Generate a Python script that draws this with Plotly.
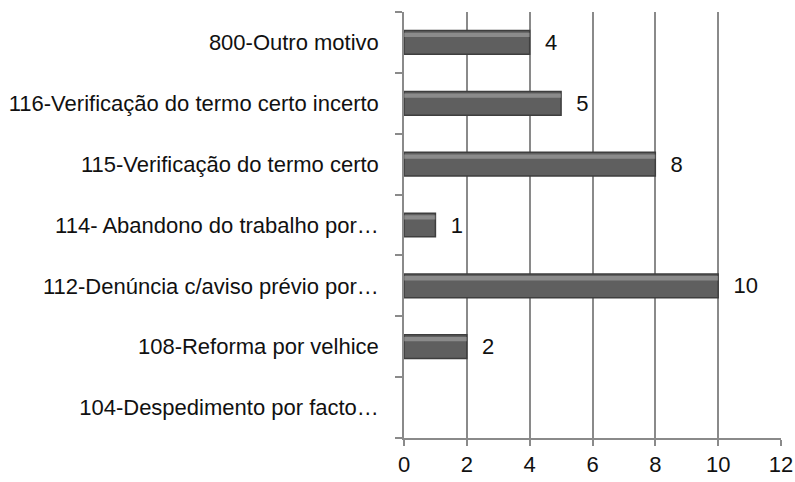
import plotly.graph_objects as go

# bottom -> top order
motivos = [
    "104-Despedimento por facto…",
    "108-Reforma por velhice",
    "112-Denúncia c/aviso prévio por…",
    "114- Abandono do trabalho por…",
    "115-Verificação do termo certo",
    "116-Verificação do termo certo incerto",
    "800-Outro motivo",
]
contagem = [0, 2, 10, 1, 8, 5, 4]
rotulos = ["" if v == 0 else f"  {v}" for v in contagem]

FONT = dict(family="Liberation Sans, Arial, sans-serif", size=22, color="#111111")
GRID = "#8a8a8a"

fig = go.Figure()
fig.add_trace(go.Bar(
    y=motivos, x=contagem, orientation="h", width=0.39,
    marker=dict(color="#5f5f5f",
                line=dict(color="#3e3e3e", width=[0 if v == 0 else 1.5 for v in contagem])),
    text=rotulos, textposition="outside", cliponaxis=False, constraintext="none",
    textfont=FONT, showlegend=False, hoverinfo="skip",
))
# soft highlight on top of each bar
fig.add_trace(go.Bar(
    y=motivos, x=contagem, orientation="h", width=0.07, offset=0.09,
    marker=dict(color="rgba(255,255,255,0.28)", line=dict(width=0)),
    showlegend=False, hoverinfo="skip",
))

fig.update_layout(
    width=795, height=482,
    paper_bgcolor="white", plot_bgcolor="white",
    font=FONT, barmode="overlay",
    margin=dict(l=404, r=14, t=12, b=44, autoexpand=False),
)
fig.update_xaxes(
    range=[0, 12], dtick=2, showgrid=True, gridcolor=GRID, gridwidth=1.5,
    showline=True, linecolor=GRID, linewidth=1.5,
    ticks="outside", ticklen=6, tickcolor=GRID, tickwidth=1.5,
    zeroline=False, ticklabelstandoff=0, ticklabeloverflow="allow",
    automargin=False,
)
fig.update_yaxes(
    categoryorder="array", categoryarray=motivos,
    showline=True, linecolor=GRID, linewidth=1.5,
    ticks="outside", tickson="boundaries", ticklen=7, tickcolor=GRID, tickwidth=1.5,
    showgrid=False, ticklabelstandoff=19, automargin=False,
)

# drop the default 8px page margin so the figure fills the window
fig.write_html("out.html", config={"displayModeBar": False},
               post_script="document.body.style.margin='0';")
